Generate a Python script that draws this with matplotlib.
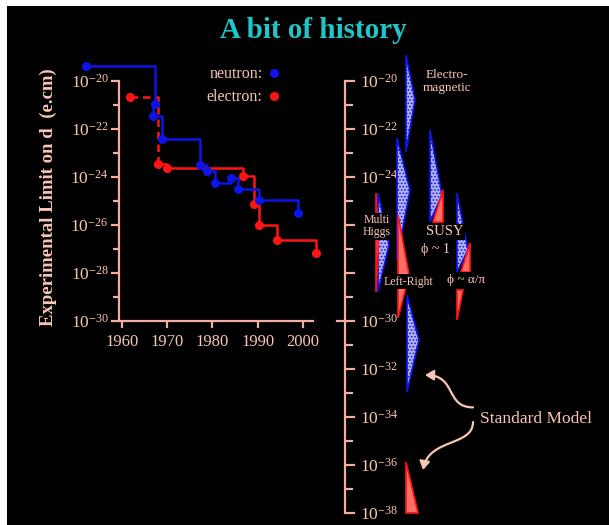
#!/usr/bin/env python3

import math

import matplotlib
matplotlib.use("Agg")
import matplotlib.pyplot as plt
import matplotlib.ticker as ticker
from matplotlib.patches import Rectangle, Polygon, FancyArrowPatch
from matplotlib.path import Path
from matplotlib.lines import Line2D

# measured EDM limits (year, e.cm)
n_year = [1952.1, 1967.3, 1967.0, 1968.8, 1977.2, 1978.9, 1980.6, 1984.1, 1985.7, 1990.2, 1999.0]
n_limit = [4.2e-20, 1.05e-21, 3.2e-22, 3.7e-23, 3.0e-24, 1.7e-24, 5.2e-25, 8.5e-25, 3.0e-25, 1.05e-25, 3.0e-26]

e_year = [1961.9, 1968.1, 1969.9, 1986.8, 1989.1, 1990.2, 1994.3, 2002.9]
e_limit = [2.0e-21, 3.3e-24, 2.2e-24, 1.05e-24, 7.1e-26, 9.5e-27, 2.2e-27, 6.8e-28]

year_ticks = [1960, 1970, 1980, 1990, 2000]

# theory predictions: log10(d) at top, widest point and bottom of each band
th_kind = ["n", "n", "e", "n", "e", "n", "e", "n", "e", "e", "n", "e"]
th_top = [-18.94, -24.69, -24.69, -22.40, -25.60, -22.06, -24.56, -24.69, -26.77, -28.73, -28.94, -35.90]
th_peak = [-20.81, -26.85, -26.85, -24.56, -28.10, -24.77, -25.90, -27.06, -27.98, -28.73, -30.81, -38.02]
th_bottom = [-22.98, -28.81, -28.81, -27.48, -29.90, -25.90, -25.90, -27.98, -27.98, -29.98, -32.98, -38.02]

# column offset and bulge of each band on the right-hand scale
band_x = [61, 33, 31, 52, 53, 85, 98, 112, 125, 112, 62, 61]
band_w = [9, 11, 2.5, 13, 11, 12, -10, 11, -9, 6, 12, 12]

# decades left unlabelled on the theory scale (hidden behind the Multi Higgs band)
hidden_exp = [-26, -28]

TXT = "#f8c6b6"
AXC = "#f4aca2"
BLUE = "#0c14e8"
RED = "#ff1414"
SERIF = "Liberation Serif"

plt.rcParams["font.family"] = SERIF
plt.rcParams["mathtext.fontset"] = "custom"
plt.rcParams["mathtext.rm"] = SERIF
plt.rcParams["hatch.color"] = "#3434e8"
plt.rcParams["hatch.linewidth"] = 0.8

W, H = 609, 525
fig = plt.figure(figsize=(W / 100, H / 100), dpi=100, facecolor="white")
fig.patches.append(Rectangle((7 / W, 0), 1, 1 - 6 / H, transform=fig.transFigure,
                             facecolor="black", edgecolor="none", zorder=-10))

fig.text(0.515, 1 - 31 / H, "A bit of history", ha="center", va="center",
         fontsize=21, weight="bold", color="#1ec6c8")


def exp_label(v, pos):
    return r"$\mathregular{10^{%d}}$" % round(math.log10(v))


def exp_label_partial(v, pos):
    k = round(math.log10(v))
    if k in hidden_exp:
        return ""
    return r"$\mathregular{10^{%d}}$" % k


def style_logaxis(ax, lo, hi, ticklen, fmt):
    ax.set_yscale("log")
    ax.set_yticks([10.0 ** k for k in range(lo, hi + 1, 2)])
    ax.set_yticks([10.0 ** k for k in range(lo + 1, hi, 2)], minor=True)
    ax.yaxis.set_major_formatter(ticker.FuncFormatter(fmt))
    ax.yaxis.set_minor_formatter(ticker.NullFormatter())
    ax.tick_params(axis="y", which="major", length=ticklen, width=1.6, color=AXC,
                   labelcolor=TXT, labelsize=12.5, pad=2)
    ax.tick_params(axis="y", which="minor", length=ticklen * 0.75, width=1.6, color=AXC)


# ---- left panel: experimental limits vs year
ax1 = fig.add_axes([119 / W, (H - 320.5) / H, 194 / W, 240 / H])
ax1.set_facecolor("none")
ax1.set_xlim(1959.4, 2002.2)
style_logaxis(ax1, -30, -20, 5.5, exp_label)
ax1.set_ylim(1e-30, 1e-20)
ax1.set_xticks(year_ticks)
ax1.tick_params(axis="x", length=5, width=1.6, color=AXC, labelcolor=TXT,
                labelsize=12, pad=5)
for s in ["top", "right"]:
    ax1.spines[s].set_visible(False)
for s in ["left", "bottom"]:
    ax1.spines[s].set_color(AXC)
    ax1.spines[s].set_linewidth(1.6)

ax1.set_ylabel("Experimental Limit on d  (e.cm)", color=TXT, fontsize=13.5,
               weight="bold")
ax1.yaxis.set_label_coords(-0.32, 0.515)

# electron: first step dashed, rest solid
ax1.plot(e_year[:2], e_limit[:2], drawstyle="steps-post", color=RED, lw=1.8,
         ls=(0, (3, 2)), clip_on=False)
ax1.plot(e_year[1:], e_limit[1:], drawstyle="steps-post", color=RED, lw=1.8, clip_on=False)
ax1.plot(e_year, e_limit, "o", color=RED, ms=5.5, clip_on=False)
ax1.plot(n_year, n_limit, drawstyle="steps-post", color=BLUE, lw=1.8, clip_on=False)
ax1.plot(n_year, n_limit, "o", color=BLUE, ms=5.5, clip_on=False)

handles = [Line2D([], [], ls="none", marker="o", color=BLUE, ms=5.5),
           Line2D([], [], ls="none", marker="o", color=RED, ms=5.5)]
ax1.legend(handles, ["neutron:", "electron:"], loc="upper right",
           bbox_to_anchor=(0.83, 1.06), markerfirst=False, frameon=False,
           handlelength=0.8, handletextpad=0.3, labelspacing=0.45,
           borderpad=0, borderaxespad=0, fontsize=11.5, labelcolor=TXT)

# ---- right panel: theoretical expectations
ax2 = fig.add_axes([345 / W, 12.5 / H, 264 / W, 432 / H])
ax2.set_facecolor("none")
ax2.set_xlim(0, 264)
style_logaxis(ax2, -38, -20, 7.5, exp_label_partial)
ax2.set_ylim(1e-38, 1e-20)
ax2.yaxis.tick_right()
ax2.spines["right"].set_position(("axes", 0))
ax2.spines["right"].set_color(AXC)
ax2.spines["right"].set_linewidth(1.6)
for s in ["top", "left", "bottom"]:
    ax2.spines[s].set_visible(False)
ax2.tick_params(axis="y", which="major", pad=3)
ax2.set_xticks([])
ax2.axhline(1e-30, xmin=-0.032, xmax=0, color=AXC, lw=1.6, clip_on=False)

for kind, t, p, b, x0, w in zip(th_kind, th_top, th_peak, th_bottom, band_x, band_w):
    pts = [(x0, 10 ** t), (x0 + w, 10 ** p), (x0, 10 ** b)]
    if kind == "n":
        patch = Polygon(pts, closed=True, facecolor="#b4b4f6", edgecolor=BLUE,
                        hatch=".....", lw=1.2, clip_on=False, zorder=2)
    else:
        patch = Polygon(pts, closed=True, facecolor="#ff6e62", edgecolor=RED,
                        lw=1.2, clip_on=False, zorder=3)
    ax2.add_patch(patch)

box = dict(facecolor="black", edgecolor="none", pad=1.0)
ax2.text(102, 10 ** -20.04, "Electro-\nmagnetic", ha="center", va="center",
         fontsize=9.5, color=TXT, linespacing=1.05)
ax2.text(32, 10 ** -26.08, "Multi\nHiggs", ha="center", va="center",
         fontsize=8.5, color=TXT, linespacing=1.0, bbox=box, zorder=5)
ax2.text(100, 10 ** -26.31, "SUSY", ha="center", va="center",
         fontsize=10.5, color=TXT, bbox=box, zorder=5)
ax2.text(90, 10 ** -27.06, "ϕ ~ 1", ha="center", va="center",
         fontsize=10, color=TXT, bbox=box, zorder=5)
ax2.text(63, 10 ** -28.38, "Left-Right", ha="center", va="center",
         fontsize=8.5, color=TXT, bbox=box, zorder=5)
ax2.text(121.5, 10 ** -28.31, "ϕ ~ α/π", ha="center", va="center",
         fontsize=9.5, color=TXT, bbox=box, zorder=5)

ax2.text(135, 10 ** -34.1, "Standard Model", ha="left", va="center",
         fontsize=12.5, color=TXT)


def s_arrow(ax, start, c1, c2, end):
    verts = [(x, 10 ** y) for x, y in (start, c1, c2, end)]
    path = Path(verts, [Path.MOVETO, Path.CURVE4, Path.CURVE4, Path.CURVE4])
    ax.add_patch(FancyArrowPatch(path=path, arrowstyle="-|>,head_length=5,head_width=3",
                                 color=TXT, lw=1.6, transform=ax.transData,
                                 clip_on=False, zorder=4))


s_arrow(ax2, (128, -33.62), (100, -33.62), (112, -32.3), (80, -32.27))
s_arrow(ax2, (128, -34.23), (128, -35.25), (84, -34.9), (78, -36.23))

fig.savefig("out.png", dpi=100, facecolor=fig.get_facecolor())
